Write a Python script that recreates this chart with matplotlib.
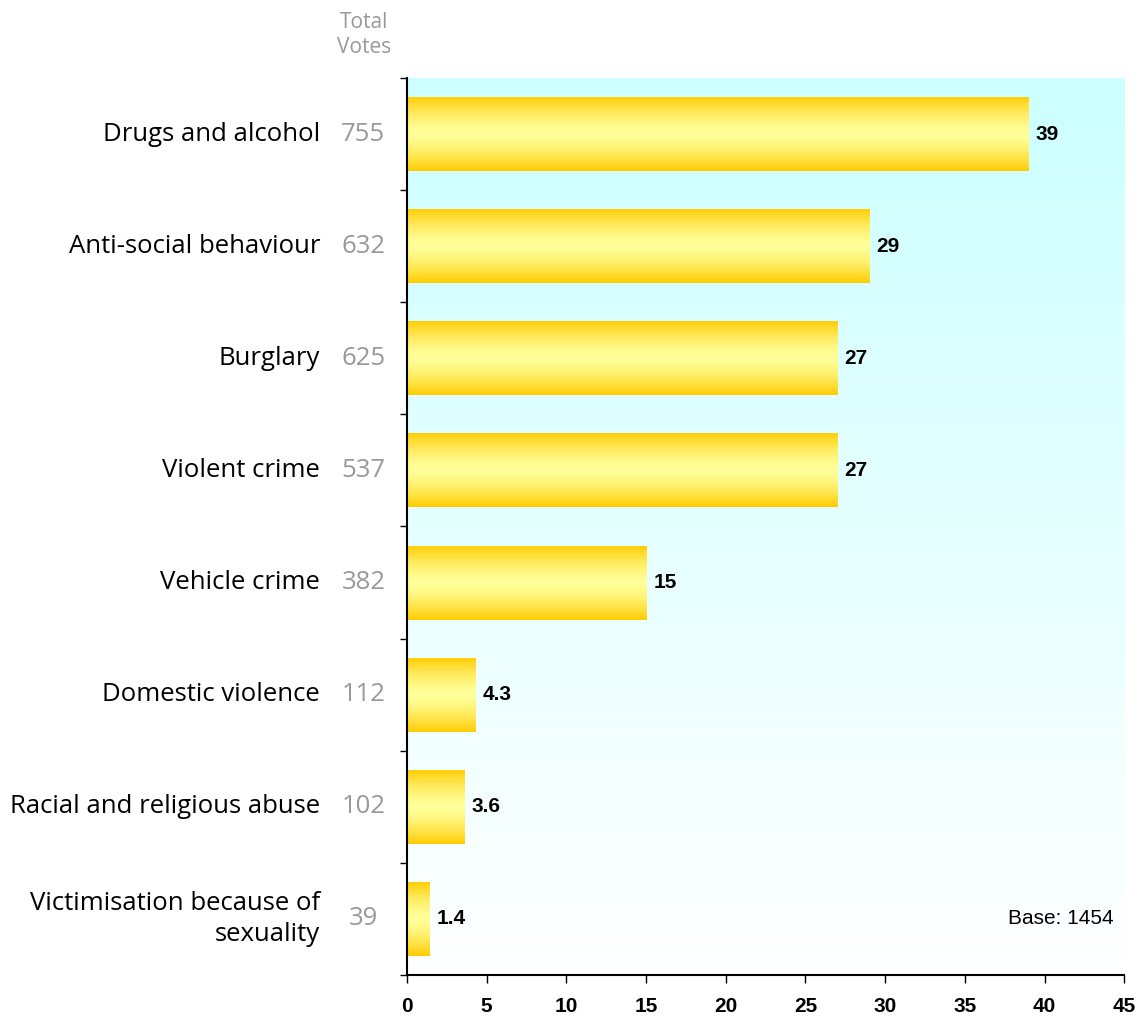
import numpy as np
import matplotlib
matplotlib.use('Agg')
import matplotlib.pyplot as plt

categories = ['Drugs and alcohol', 'Anti-social behaviour', 'Burglary', 'Violent crime',
              'Vehicle crime', 'Domestic violence', 'Racial and religious abuse',
              'Victimisation because of\nsexuality']
votes = [755, 632, 625, 537, 382, 112, 102, 39]
percent = [39, 29, 27, 27, 15, 4.3, 3.6, 1.4]
pct_labels = ['39', '29', '27', '27', '15', '4.3', '3.6', '1.4']
xticks = [0, 5, 10, 15, 20, 25, 30, 35, 40, 45]

fig = plt.figure(figsize=(11.46, 10.19), dpi=100)
ax = fig.add_axes([0.355, 0.0432, 0.626, 0.8803])

n = len(categories)
ypos = np.arange(n)
ax.set_xlim(0, 45)
ax.set_ylim(n - 0.5, -0.5)

# background gradient: cyan at top to white at bottom
bg = np.linspace(0, 1, 256).reshape(-1, 1)
top = np.array([0.80, 1.0, 1.0])
bot = np.array([1.0, 1.0, 1.0])
bg_img = top + (bot - top) * bg[..., None]
bg_img = np.repeat(bg_img, 2, axis=1)
ax.imshow(bg_img, extent=[0, 45, n - 0.5, -0.5], aspect='auto', zorder=0)

# bars with vertical gold gradient
bars = ax.barh(ypos, percent, height=0.66, color='none', edgecolor='none', zorder=2)
t = np.linspace(-1, 1, 256)
w = np.abs(t) ** 1.5
gold = np.array([1.0, 0.80, 0.0])
light = np.array([1.0, 1.0, 0.60])
grad = light + (gold - light) * w[:, None]
grad = np.repeat(grad[:, None, :], 2, axis=1)
for b in bars:
    x0, y0 = b.get_x(), b.get_y()
    im = ax.imshow(grad, extent=[x0, x0 + b.get_width(), y0 + b.get_height(), y0],
                   aspect='auto', zorder=2)
    im.set_clip_path(b)

for y, v, lab in zip(ypos, percent, pct_labels):
    ax.text(v + 0.45, y, lab, va='center', ha='left', fontsize=15,
            fontweight='bold', family='Liberation Sans', zorder=3)

ax.set_yticks(np.arange(n + 1) - 0.5)
ax.set_yticklabels([])
ax.tick_params(axis='y', direction='out', length=5, width=1)
ax.set_xticks(xticks)
ax.set_xticklabels([str(x) for x in xticks], fontsize=15, fontweight='bold',
                   family='Liberation Sans')
ax.tick_params(axis='x', direction='out', length=6, width=1, pad=10)
for s in ['top', 'right']:
    ax.spines[s].set_visible(False)
for s in ['left', 'bottom']:
    ax.spines[s].set_linewidth(1.5)

trans = ax.get_yaxis_transform()
for y, cat, vt in zip(ypos, categories, votes):
    ax.text(-0.121, y, cat, transform=trans, ha='right', va='center', fontsize=18.5,
            family='Open Sans', linespacing=1.3)
    ax.text(-0.0605, y, str(vt), transform=trans, ha='center', va='center',
            fontsize=18.5, family='Open Sans', color='#999999')

fig.text(364 / 1146, 1 - 35 / 1019, 'Total\nVotes', ha='center', va='center',
         fontsize=15, family='Open Sans', color='#999999', linespacing=1.3)

ax.text(0.985, 7.0, 'Base: 1454', transform=trans, ha='right', va='center',
        fontsize=15, family='Liberation Sans')

fig.savefig('out.png', dpi=100)
